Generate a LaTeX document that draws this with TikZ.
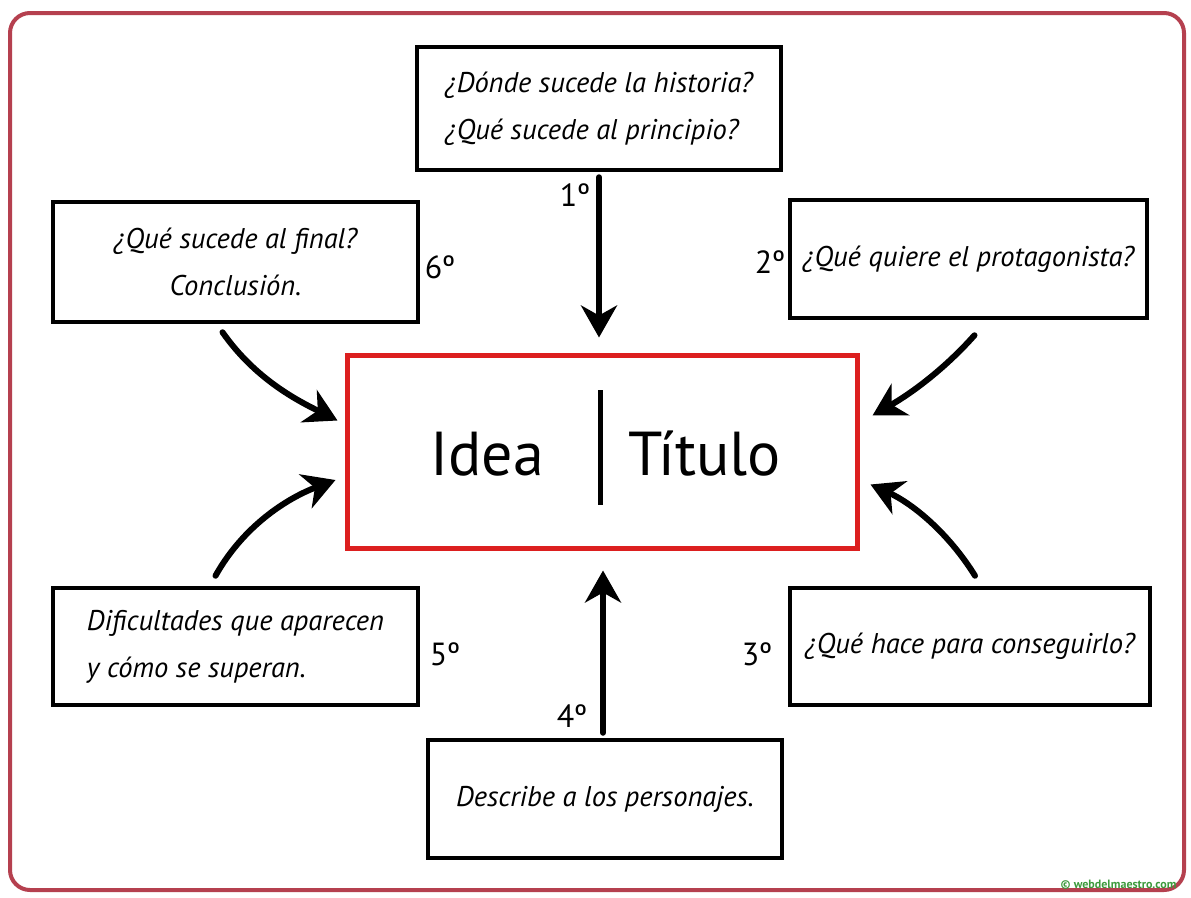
\documentclass[tikz,border=0pt]{standalone}
\usepackage{fontspec}
\setmainfont{PT Sans}
\usetikzlibrary{arrows.meta}
\definecolor{marco}{HTML}{B5404F}
\definecolor{rojo}{HTML}{DC1F1F}
\definecolor{verde}{HTML}{3C9A3C}
\tikzset{
  pregunta/.style={draw, line width=4.5pt, inner sep=0pt, font=\fontsize{28.5}{47}\selectfont\itshape},
  orden/.style={anchor=base, font=\fontsize{32}{32}\selectfont},
  flecha/.style={line width=6pt, line cap=round, -{Stealth[length=32pt,width=36pt,inset=10pt]}},
}
\begin{document}
\begin{tikzpicture}[x=1pt, y=-1pt]
    \useasboundingbox (0, 0) rectangle (1191, 897);
    \fill[white] (0, 0) rectangle (1191, 897);
    \draw[marco, line width=4pt, rounded corners=20pt] (10, 13) rectangle (1184, 890);
    % cajas
    \node[pregunta, minimum width=364, minimum height=123, align=left] (donde) at (599, 108.5) {¿Dónde sucede la historia?\\¿Qué sucede al principio?};
    \node[pregunta, minimum width=365, minimum height=120, align=center] (final) at (235.5, 262) {¿Qué sucede al final?\\Conclusión.};
    \node[pregunta, minimum width=357, minimum height=118] (quiere) at (968.5, 259) {¿Qué quiere el protagonista?};
    \node[pregunta, minimum width=365, minimum height=117, align=left] (dificultades) at (235.5, 646.5) {Dificultades que aparecen\\y cómo se superan.};
    \node[pregunta, minimum width=360, minimum height=117] (hace) at (970, 646.5) {¿Qué hace para conseguirlo?};
    \node[pregunta, minimum width=354, minimum height=118] (personajes) at (605, 799) {Describe a los personajes.};
    \node[draw=rojo, line width=5pt, minimum width=510, minimum height=193] (idea) at (602, 451.5) {};
    \node[anchor=base, font=\fontsize{62}{62}\selectfont] (ideatxt) at (487, 475) {Idea};
    \node[anchor=base, font=\fontsize{62}{62}\selectfont] (titulo) at (705, 475) {Título};
    \draw[line width=5pt] ([shift={(-2, -61.5)}]idea.center) -- ([shift={(-2, 53.5)}]idea.center);
    % ordinales
    \node[orden] (uno) at (575, 206) {1º};
    \node[orden] (dos) at (770, 273) {2º};
    \node[orden] (tres) at (757, 665) {3º};
    \node[orden] (cuatro) at (572, 727) {4º};
    \node[orden] (cinco) at (445, 665) {5º};
    \node[orden] (seis) at (440, 278) {6º};
    % flechas
    \draw[flecha, shorten <=5pt, shorten >=15pt] (donde.south) -- (donde.south |- idea.north);
    \draw[flecha, shorten <=5pt, shorten >=20pt] ([xshift=-2pt]personajes.north) -- ([xshift=-2pt]personajes.north |- idea.south);
    \draw[flecha] ([xshift=-13pt, yshift=-8pt]final.south) .. controls +(33, 47) and +(-40, -20) .. ([xshift=-7pt, yshift=31pt]idea.west);
    \draw[flecha] ([xshift=-20pt, yshift=10pt]dificultades.north) .. controls +(28, -50) and +(-48, 18) .. ([xshift=-9pt, yshift=-28.5pt]idea.west);
    \draw[flecha] ([xshift=6pt, yshift=-15pt]quiere.south) .. controls +(-33, 37) and +(35, -20) .. ([xshift=13pt, yshift=36pt]idea.east);
    \draw[flecha] ([xshift=5pt, yshift=10pt]hace.north) .. controls +(-28, -45) and +(40, 18) .. ([xshift=11pt, yshift=-33pt]idea.east);
    % marca
    \node[anchor=east, text=verde, font=\fontsize{12}{12}\selectfont\bfseries] (web) at (1180, 885) {© webdelmaestro.com};
\end{tikzpicture}
\end{document}
